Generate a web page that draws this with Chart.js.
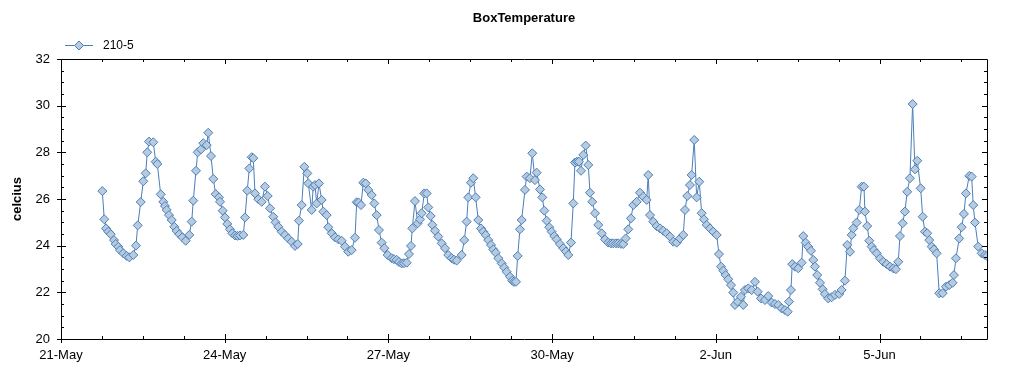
<!DOCTYPE html>
<html>
<head>
<meta charset="utf-8">
<script src="https://cdn.jsdelivr.net/npm/chart.js@4/dist/chart.umd.min.js"></script>
<style>
  html, body { margin: 0; padding: 0; background: #fff; }
  #wrap { width: 1024px; height: 375px; position: relative; }
</style>
</head>
<body>
<div id="wrap"><canvas id="myChart"></canvas></div>
<script>
// time of each reading, in days after 21-May 00:00
const days = [
  0.757, 0.793, 0.825, 0.867, 0.911, 0.971, 1.002, 1.050, 1.081, 1.142, 1.204, 1.252, 1.325, 1.374, 1.406,
  1.461, 1.508, 1.552, 1.581, 1.613, 1.691, 1.735, 1.765, 1.827, 1.875, 1.906, 1.937, 1.979, 2.029, 2.076,
  2.120, 2.168, 2.223, 2.285, 2.351, 2.395, 2.424, 2.474, 2.505, 2.566, 2.608, 2.670, 2.699, 2.749, 2.791,
  2.835, 2.895, 2.914, 2.963, 3.005, 3.047, 3.097, 3.139, 3.189, 3.234, 3.280, 3.341, 3.372, 3.414, 3.451,
  3.495, 3.524, 3.555, 3.616, 3.678, 3.738, 3.788, 3.830, 3.890, 3.931, 3.982, 4.044, 4.105, 4.165, 4.228,
  4.288, 4.338, 4.361, 4.411, 4.459, 4.514, 4.532, 4.594, 4.623, 4.655, 4.686, 4.728, 4.777, 4.807, 4.869,
  4.898, 4.961, 5.021, 5.082, 5.144, 5.204, 5.265, 5.327, 5.388, 5.419, 5.452, 5.498, 5.540, 5.584, 5.631,
  5.694, 5.741, 5.785, 5.827, 5.877, 5.925, 5.987, 6.060, 6.102, 6.152, 6.194, 6.243, 6.285, 6.335, 6.377,
  6.414, 6.438, 6.487, 6.537, 6.579, 6.610, 6.658, 6.701, 6.731, 6.775, 6.804, 6.854, 6.914, 6.976, 7.037,
  7.097, 7.160, 7.202, 7.251, 7.343, 7.390, 7.434, 7.464, 7.513, 7.555, 7.599, 7.647, 7.697, 7.739, 7.783,
  7.830, 7.880, 7.922, 7.966, 8.014, 8.076, 8.124, 8.168, 8.228, 8.270, 8.301, 8.338, 8.369, 8.411, 8.442,
  8.503, 8.534, 8.594, 8.637, 8.686, 8.717, 8.778, 8.820, 8.857, 8.901, 8.948, 8.992, 9.040, 9.084, 9.144,
  9.205, 9.254, 9.297, 9.346, 9.388, 9.419, 9.456, 9.492, 9.529, 9.571, 9.615, 9.663, 9.694, 9.736, 9.786,
  9.846, 9.908, 9.969, 10.029, 10.079, 10.121, 10.170, 10.213, 10.262, 10.304, 10.348, 10.396, 10.445, 10.488, 10.550,
  10.610, 10.671, 10.733, 10.762, 10.794, 10.854, 10.916, 10.977, 11.037, 11.099, 11.160, 11.220, 11.283, 11.343, 11.404,
  11.435, 11.477, 11.526, 11.557, 11.605, 11.649, 11.697, 11.741, 11.783, 11.833, 11.893, 11.953, 12.016, 12.058, 12.095,
  12.137, 12.181, 12.228, 12.278, 12.320, 12.351, 12.401, 12.461, 12.503, 12.534, 12.595, 12.657, 12.718, 12.767, 12.828,
  12.901, 12.961, 13.024, 13.084, 13.145, 13.207, 13.267, 13.317, 13.341, 13.377, 13.401, 13.451, 13.511, 13.573, 13.603,
  13.647, 13.695, 13.744, 13.786, 13.817, 13.859, 13.909, 13.958, 14.000, 14.061, 14.123, 14.184, 14.262, 14.306, 14.367,
  14.409, 14.459, 14.490, 14.519, 14.581, 14.629, 14.673, 14.715, 14.733, 14.775, 14.812, 14.856, 14.898, 14.948, 15.008,
  15.069, 15.131, 15.192, 15.252, 15.301, 15.344, 15.375, 15.424, 15.466, 15.508, 15.558, 15.607, 15.650, 15.692, 15.754,
  15.791, 15.833, 15.875, 15.912, 15.956, 15.998, 16.047, 16.095, 16.157, 16.218, 16.278, 16.340, 16.364, 16.401, 16.461,
  16.505, 16.547, 16.584, 16.645, 16.689, 16.718, 16.749, 16.809, 16.872, 16.932, 16.970
];

// BoxTemperature, sensor 210-5 (celcius)
const temps = [
  26.34, 25.13, 24.74, 24.60, 24.49, 24.24, 24.07, 23.95, 23.81, 23.67, 23.56, 23.50, 23.60, 24.00, 24.87,
  25.87, 26.76, 27.10, 28.00, 28.46, 28.43, 27.60, 27.50, 26.20, 25.88, 25.70, 25.53, 25.31, 25.10, 24.81,
  24.63, 24.49, 24.36, 24.21, 24.46, 25.03, 25.93, 27.21, 28.00, 28.13, 28.39, 28.31, 28.84, 27.84, 26.86,
  26.21, 26.07, 25.88, 25.50, 25.21, 24.93, 24.70, 24.53, 24.44, 24.42, 24.44, 24.46, 25.21, 26.36, 27.31,
  27.79, 27.75, 26.24, 25.99, 25.88, 26.53, 26.13, 25.60, 25.24, 25.00, 24.81, 24.60, 24.46, 24.31, 24.17,
  23.99, 24.07, 25.07, 25.74, 27.38, 27.10, 26.67, 25.53, 26.53, 26.60, 25.81, 26.67, 25.96, 25.46, 25.31,
  24.79, 24.53, 24.36, 24.27, 24.21, 23.96, 23.74, 23.81, 24.34, 25.86, 25.85, 25.74, 26.70, 26.67, 26.39,
  26.17, 25.81, 25.31, 24.67, 24.13, 23.89, 23.60, 23.46, 23.42, 23.39, 23.30, 23.24, 23.25, 23.27, 23.64,
  23.99, 24.74, 25.91, 24.96, 25.13, 25.39, 26.24, 26.24, 25.64, 25.27, 24.89, 24.64, 24.39, 24.10, 23.89,
  23.60, 23.46, 23.40, 23.36, 23.60, 24.24, 25.03, 26.07, 26.70, 26.89, 26.07, 25.10, 24.74, 24.60, 24.46,
  24.24, 24.03, 23.84, 23.70, 23.46, 23.24, 23.06, 22.88, 22.67, 22.50, 22.45, 22.45, 23.56, 24.70, 25.10,
  26.39, 26.96, 26.89, 27.96, 26.81, 27.13, 26.41, 26.07, 25.50, 25.07, 24.79, 24.60, 24.41, 24.27, 24.07,
  23.89, 23.75, 23.60, 24.13, 25.81, 27.56, 27.60, 27.60, 27.21, 27.89, 28.29, 27.46, 26.27, 25.88, 25.39,
  24.89, 24.53, 24.27, 24.13, 24.10, 24.10, 24.10, 24.10, 24.08, 24.07, 24.31, 24.70, 25.17, 25.74, 25.88,
  26.27, 26.10, 25.96, 27.03, 25.31, 25.03, 24.84, 24.74, 24.64, 24.53, 24.39, 24.17, 24.13, 24.31, 24.46,
  25.53, 26.13, 26.60, 27.03, 28.53, 26.07, 26.74, 25.39, 25.13, 24.89, 24.74, 24.60, 24.46, 23.64, 23.10,
  22.93, 22.74, 22.56, 22.31, 21.99, 21.46, 21.60, 21.81, 21.46, 22.10, 22.17, 22.10, 22.45, 22.03, 21.74,
  21.67, 21.84, 21.56, 21.50, 21.46, 21.31, 21.24, 21.17, 21.60, 22.10, 23.21, 23.10, 23.03, 23.27, 24.41,
  24.13, 23.95, 23.78, 23.39, 23.10, 22.74, 22.41, 22.13, 21.93, 21.74, 21.79, 21.89, 21.93, 22.10, 22.50,
  24.03, 23.74, 24.46, 24.74, 24.99, 25.53, 26.53, 26.53, 25.46, 24.84, 24.21, 23.96, 23.81, 23.67, 23.46,
  23.31, 23.21, 23.10, 23.03, 22.99, 23.31, 24.41, 24.96, 25.46, 26.31, 26.89, 30.07, 27.27, 27.64, 26.46,
  25.24, 24.60, 24.53, 24.24, 23.96, 23.84, 23.67, 21.96, 21.96, 22.24, 22.31, 22.41, 22.74, 23.46, 24.31,
  24.79, 25.36, 26.24, 26.99, 26.96, 25.74, 24.99, 23.96, 23.67, 23.60, 23.56
];

const xTickLabels = ['21-May', '24-May', '27-May', '30-May', '2-Jun', '5-Jun'];
const seriesName = '210-5';

const lineColor = '#4A7EBB';
const markerFill = '#B7CBDF';

// frame with ticks on all four sides + legend with line and diamond
const boxPlugin = {
  id: 'boxPlugin',
  afterDraw(chart) {
    const ctx = chart.ctx;
    const a = chart.chartArea;
    const xs = chart.scales.x, ys = chart.scales.y;
    ctx.save();
    ctx.strokeStyle = '#000';
    ctx.lineWidth = 1;
    ctx.beginPath();
    ctx.rect(Math.round(a.left) + 0.5, Math.round(a.top) + 0.5,
      Math.round(a.right - a.left), Math.round(a.bottom - a.top));
    xs.ticks.forEach(t => {
      const px = Math.round(xs.getPixelForValue(t.value)) + 0.5;
      const major = t.value % 3 === 0;
      const len = major ? 5 : 3;
      ctx.moveTo(px, a.bottom + (major ? 4 : 0));
      ctx.lineTo(px, a.bottom - len);
      ctx.moveTo(px, a.top);
      ctx.lineTo(px, a.top + len);
    });
    ys.ticks.forEach(t => {
      const py = Math.round(ys.getPixelForValue(t.value)) + 0.5;
      const major = t.value % 2 === 0;
      const len = major ? 5 : 3;
      ctx.moveTo(a.left - (major ? 4 : 0), py);
      ctx.lineTo(a.left + len, py);
      ctx.moveTo(a.right, py);
      ctx.lineTo(a.right - len, py);
    });
    ctx.stroke();

    // legend
    const ly = Math.round(a.top) - 14 + 0.5;
    const lx = a.left + 4;
    ctx.strokeStyle = lineColor;
    ctx.beginPath();
    ctx.moveTo(lx, ly);
    ctx.lineTo(lx + 28, ly);
    ctx.stroke();
    ctx.beginPath();
    ctx.moveTo(lx + 14, ly - 4.5);
    ctx.lineTo(lx + 18.5, ly);
    ctx.lineTo(lx + 14, ly + 4.5);
    ctx.lineTo(lx + 9.5, ly);
    ctx.closePath();
    ctx.fillStyle = markerFill;
    ctx.fill();
    ctx.stroke();
    ctx.fillStyle = '#000';
    ctx.font = '12px "Liberation Sans", Arial, sans-serif';
    ctx.textBaseline = 'middle';
    ctx.fillText(chart.data.datasets[0].label, lx + 38, ly);
    ctx.restore();
  }
};

const ctx = document.getElementById('myChart').getContext('2d');
const myChart = new Chart(ctx, {
  type: 'line',
  data: {
    datasets: [{
      label: seriesName,
      data: days.map((d, i) => ({ x: d, y: temps[i] })),
      borderColor: lineColor,
      borderWidth: 1,
      tension: 0,
      pointStyle: 'rectRot',
      pointRadius: 4.5,
      pointBorderWidth: 1,
      pointBackgroundColor: markerFill,
      pointBorderColor: lineColor,
      fill: false,
    }],
  },
  options: {
    responsive: true,
    maintainAspectRatio: false,
    animation: false,
    layout: { padding: { left: 0, right: 37, top: 0, bottom: 0 } },
    font: { family: '"Liberation Sans", Arial, sans-serif' },
    plugins: {
      legend: { display: false },
      tooltip: { enabled: false },
      title: {
        display: true,
        text: 'BoxTemperature',
        fullSize: false,
        color: '#000',
        font: { size: 13, weight: 'bold', family: '"Liberation Sans", Arial, sans-serif', lineHeight: 1.2 },
        padding: { top: 11, bottom: 32.4 },
      },
    },
    scales: {
      x: {
        type: 'linear',
        position: 'bottom',
        min: 0,
        max: 16.97,
        afterBuildTicks: s => {
          const t = [];
          for (let i = 0; i * 0.75 <= 16.97; i++) t.push({ value: i * 0.75 });
          s.ticks = t;
        },
        afterFit: s => { s.height = 36; },
        grid: { display: true, drawOnChartArea: false, drawTicks: false },
        border: { display: false },
        ticks: {
          autoSkip: false,
          maxRotation: 0,
          padding: 9,
          color: '#000',
          font: { size: 13, family: '"Liberation Sans", Arial, sans-serif' },
          callback: v => (v % 3 === 0 ? xTickLabels[v / 3] : ''),
        },
      },
      y: {
        type: 'linear',
        position: 'left',
        min: 20,
        max: 32,
        afterBuildTicks: s => {
          const t = [];
          for (let i = 0; i <= 24; i++) t.push({ value: 20 + i * 0.5 });
          s.ticks = t;
        },
        afterFit: s => { s.width = 61; },
        grid: { display: true, drawOnChartArea: false, drawTicks: false },
        border: { display: false },
        title: {
          display: true,
          text: 'celcius',
          color: '#000',
          padding: { top: 10, bottom: 0 },
          font: { size: 13, weight: 'bold', family: '"Liberation Sans", Arial, sans-serif', lineHeight: 1.2 },
        },
        ticks: {
          autoSkip: false,
          padding: 11,
          color: '#000',
          font: { size: 13, family: '"Liberation Sans", Arial, sans-serif' },
          callback: v => (v % 2 === 0 ? String(v) : ''),
        },
      },
    },
  },
  plugins: [boxPlugin],
});
</script>
</body>
</html>
